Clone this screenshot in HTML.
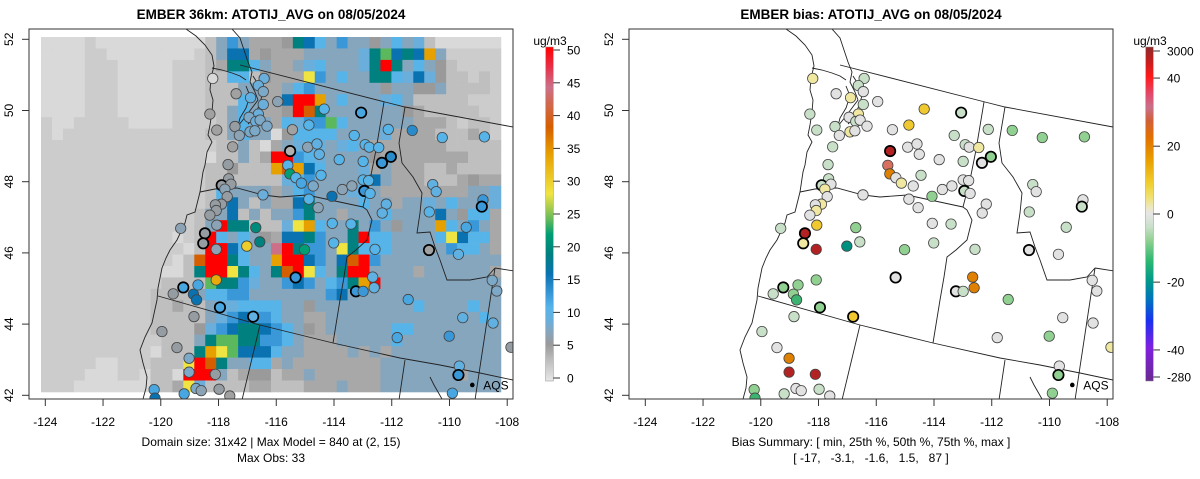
<!DOCTYPE html>
<html><head><meta charset="utf-8">
<style>
html,body{margin:0;padding:0;background:#fff;}
svg{display:block;font-family:"Liberation Sans",Arial,sans-serif;}
</style></head>
<body>
<svg id="chart" width="1200" height="479" viewBox="0 0 1200 479" xmlns="http://www.w3.org/2000/svg">
<defs>
<clipPath id="clipL"><rect x="29" y="29" width="484" height="370"/></clipPath>
<clipPath id="clipR"><rect x="629" y="29" width="484" height="370"/></clipPath>
<linearGradient id="gradObs" x1="0" y1="1" x2="0" y2="0"></linearGradient>
<linearGradient id="gradBias" x1="0" y1="0" x2="0" y2="1">
<stop offset="0" stop-color="#8e2a2a"/><stop offset="0.04" stop-color="#c21e1e"/><stop offset="0.09" stop-color="#ff1a1a"/>
<stop offset="0.14" stop-color="#e4486a"/><stop offset="0.18" stop-color="#c8708a"/><stop offset="0.22" stop-color="#d0603a"/>
<stop offset="0.27" stop-color="#e07000"/><stop offset="0.34" stop-color="#e8a000"/><stop offset="0.41" stop-color="#f0d030"/>
<stop offset="0.45" stop-color="#f0e070"/><stop offset="0.48" stop-color="#ece8c0"/><stop offset="0.5" stop-color="#e6e6e6"/>
<stop offset="0.54" stop-color="#c8e0c8"/><stop offset="0.58" stop-color="#90d090"/><stop offset="0.64" stop-color="#2db870"/>
<stop offset="0.70" stop-color="#00998a"/><stop offset="0.76" stop-color="#0070c0"/><stop offset="0.82" stop-color="#1a30f0"/>
<stop offset="0.9" stop-color="#8020e0"/><stop offset="1" stop-color="#6a2a90"/>
</linearGradient>
</defs>
<g id="left"></g>
<g id="right"></g>
</svg>
<script>
const gridRows = [
"LLLLlLLLLLLLLLLmscsgggktdbscssksbsBmLLLLLL",
"LLLLllLLLLLLLLlmsddgkgggsssssBtndtdoslllll",
"LLLLlllLLLLLlllmgttbsggsBbsssBtrtsbskmllll",
"LLLLlllLLLLLlllmmbbmkgggycsbssttbBdBkmmlml",
"LLLLlllLLLLLlllmmmssggsbcssssssksskksmmmml",
"LLLLlllLLLLLlllmmmbsggdrrosbsssBbsmmmmmlll",
"LLLLlllLLLLLlllmmsbsggkrOtssssssskgmmmmmll",
"lLLlllllLLLLllllmsbssgbBccnbssssssgggmlmml",
"lLlllllllllllllmmsbssLkbbbbssssBggggmmmgml",
"llllllllllllllllmmsmLgsBbBsBbsgggggggmmmmm",
"lllllllllllllllLmmsmgrrcbBsssskggggggggmmm",
"lllllllllllllllmmkmmmoOodbsssBgsgggmmgmmmm",
"lllllllllllllllmmmmmmmBbcssssBdsgggmmmgkgg",
"lllllllllllllllmbssssgsbcsssBbsggggggggssB",
"lllllllllllllllmbdsmsggdtssssbssgssBsbsssB",
"llllllllllllllmssdmsmssctssgsssbssssdskbbg",
"llllllllllllllmsrttmmmByobsstscsksssobscsg",
"llllllllllllLlmrbsbskgddtcsstrbbssssbydbbg",
"lllllllllllllLmrrdbssprtccsytbbbssssscbbsg",
"llllllllllllLmOrrtbssorrdcsdOrcsssssssssss",
"lllllllllllLLmtrrytbstOrybstrrssssgssssssg",
"lllllllllllmmmmnttcBsscdcsbctorsssssssssss",
"llllllllllmmmmsbbccssssssscdssssssssssssss",
"llllllllllmmgmmsBBbbbbssksssssssssbssssbss",
"llllllllllmmmmmsBcdccbssggssssssssssssssbs",
"llllllllllmmmmkBcdttdcbskgssssssbbssssssss",
"lllllllllllmmmstnnttccbsgggsssssbsssssssss",
"llllllllllLmmmtoyndddbssggggsgsgssssssssss",
"lllllLLlllmmmyrOtssbbgsggggggggsssssssssss",
"llllLLLllLmmLrrrsmgkkmggsggggggsssssssgsss",
"lllLLLLLLLmmgyBmmmmggmmmgggsgggsssssssssss"
];
const letterValue = {L:1,l:2,m:3,g:4.5,k:5.5,s:7.5,B:9,b:11,c:13,d:16,t:19,n:24,y:28,o:34,O:38,p:44,r:50};
const stationLon = [-118.20,-116.42,-116.62,-116.45,-117.39,-116.89,-116.45,-115.95,-118.30,-116.62,-114.34,-113.06,-116.94,-116.71,-116.56,-116.32,-117.43,-118.06,-117.28,-116.91,-116.74,-115.44,-114.87,-112.12,-113.30,-117.51,-115.52,-114.91,-114.59,-114.51,-112.92,-112.78,-112.45,-112.03,-112.34,-113.82,-112.99,-117.67,-115.60,-115.53,-114.45,-115.32,-115.13,-114.72,-117.65,-117.89,-117.57,-117.78,-117.70,-113.71,-113.38,-112.99,-112.80,-112.95,-112.75,-116.46,-114.87,-114.07,-114.55,-112.19,-112.33,-117.90,-118.11,-118.08,-118.30,-119.31,-118.06,-116.71,-114.06,-113.41,-118.47,-118.53,-118.08,-117.02,-116.57,-115.02,-114.01,-112.58,-115.33,-112.66,-112.61,-113.24,-112.99,-119.22,-118.71,-118.08,-119.57,-118.87,-118.76,-117.95,-116.80,-118.85,-119.96,-119.44,-119.02,-119.02,-118.11,-120.23,-120.20,-119.19,-118.78,-118.60,-117.98,-117.61,-111.81,-111.29,-110.25,-108.79,-110.58,-110.46,-108.84,-108.88,-110.70,-109.42,-110.71,-109.69,-108.52,-108.36,-111.43,-109.54,-108.49,-110.01,-107.87,-109.66,-109.69,-109.90];
const stationLat = [50.90,50.90,50.70,50.53,50.47,50.36,50.17,50.25,49.90,49.90,50.04,49.94,49.81,49.69,49.73,49.56,49.55,49.45,49.30,49.40,49.43,49.46,49.59,49.47,49.30,48.98,48.86,48.97,49.06,48.77,49.04,48.97,48.96,48.70,48.53,48.62,48.57,48.48,48.46,48.22,48.18,48.11,47.96,47.88,48.08,47.90,47.93,47.79,47.58,47.78,47.88,48.05,48.03,47.74,47.67,47.63,47.51,47.59,47.27,47.37,47.12,47.37,47.35,47.19,47.06,46.69,46.78,46.71,46.83,46.81,46.55,46.27,46.10,46.19,46.31,46.09,46.28,46.10,45.31,45.32,45.02,44.92,44.92,45.03,45.10,45.24,44.85,44.84,44.68,44.47,44.21,44.21,43.79,43.34,43.04,42.65,42.59,42.16,41.92,42.04,42.19,42.13,42.17,41.98,43.62,49.44,49.24,49.26,47.92,47.72,47.49,47.30,47.15,46.72,46.08,45.96,45.23,44.93,44.69,44.18,44.03,43.66,43.35,42.82,42.57,42.06];
const stationObs = [1,9,9,8,5,10,9,7,5,9,11,12,8,9,8,8,6,5,7,8,8,5,11,11,11,5,4,7,10,10,11,11,11,14,13,11,11,6,11,22,11,11,12,8,6,6,6,7,6,7,7,11,11,13,11,9,11,16,7,10,10,6,6,6,6,7,7,20,11,11,6,6,7,30,19,22,11,11,13,10,10,13,13,12,12,33,6,16,16,12,10,6,6,6,8,8,6,12,16,12,8,7,6,5,12,14,11,11,10,10,13,13,11,12,5,10,8,8,12,10,10,13,6,10,13,12];
const stationBias = [5,-3,-3,0,0,5,-3,0,-3,5,12,-3,0,-3,0,0,-3,-3,0,5,0,0,12,-3,-3,-3,45,0,0,0,-3,0,5,-5,0,0,-3,-3,33,25,-3,0,5,0,-3,-3,0,5,0,0,0,0,0,-3,0,0,0,-6,0,0,0,5,0,5,0,-3,12,-8,0,-3,45,5,45,-18,-3,-6,-3,-3,0,25,25,0,-3,-8,-8,-8,-3,-8,-12,-5,12,-3,-3,0,25,45,45,-8,-12,-3,0,0,-3,0,0,-6,-6,-6,-3,0,0,-3,-3,-3,0,0,0,0,-6,0,0,-6,5,0,-6,-6];
const boldStations = [11,26,33,34,45,53,70,71,78,81,83,89,90,111,114,124];
const xTickLabels = [-124,-122,-120,-118,-116,-114,-112,-110,-108];
const yTickLabels = [42,44,46,48,50,52];
const obsBarTicks = [0,5,10,15,20,25,30,35,40,45,50];
const biasBarTicks = ["3000","40","20","0","-20","-40","-280"];
const biasBarTickPos = [0.012,0.093,0.297,0.5,0.704,0.907,0.988];
const aqsLon = -109.21, aqsLat = 42.29;

const NS = "http://www.w3.org/2000/svg";
function xOf(lon){ return 45.3 + (lon + 124) * 28.87; }
function yOf(lat){ return 395.3 - (lat - 42) * 35.6; }
function cellX(i){ return 41 + 10.95 * i; }
function cellY(j){ return 37 + 11.45 * j; }
function cbY(v){ return 378 - v * 6.56; }

const obsStops = [[0,"#e8e8e8"],[1,"#d9d9d9"],[2,"#cccccc"],[3,"#bfbfbf"],[4.5,"#a8a8a8"],[5.5,"#9a9a9a"],[7.5,"#86a6be"],[9,"#6aaedb"],[11,"#56b4e9"],[13,"#3a98d8"],[16,"#0a72b0"],[19,"#00807f"],[22,"#009e73"],[24,"#5cb85c"],[26,"#a8cc50"],[28,"#f0e442"],[34,"#e6a000"],[38,"#d55e00"],[44,"#cc7088"],[47,"#e8304a"],[50,"#ff0000"]];
function hx(c){ return [parseInt(c.substr(1,2),16),parseInt(c.substr(3,2),16),parseInt(c.substr(5,2),16)]; }
function obsColor(v){
  if (v <= obsStops[0][0]) return obsStops[0][1];
  for (let k=1;k<obsStops.length;k++){
    if (v <= obsStops[k][0]){
      const a=obsStops[k-1], b=obsStops[k], t=(v-a[0])/(b[0]-a[0]);
      const ca=hx(a[1]), cb=hx(b[1]);
      return "rgb("+ca.map((x,i)=>Math.round(x+(cb[i]-x)*t)).join(",")+")";
    }
  }
  return "#ff0000";
}
function biasColor(v){
  if (v>=40) return "#b22222";
  if (v>=30) return "#d87060";
  if (v>=20) return "#e08000";
  if (v>=10) return "#f0c830";
  if (v>=3) return "#f0e8a0";
  if (v>-2) return "#e2e2e2";
  if (v>-5) return "#c8e0c8";
  if (v>-10) return "#90d090";
  if (v>-15) return "#3cb371";
  return "#009080";
}
const gObs = document.getElementById("gradObs");
for (const s of obsStops){
  const st = document.createElementNS(NS,"stop");
  st.setAttribute("offset", s[0]/50);
  st.setAttribute("stop-color", s[1]);
  gObs.appendChild(st);
}
function el(tag, attrs, parent){
  const e = document.createElementNS(NS, tag);
  for (const k in attrs) e.setAttribute(k, attrs[k]);
  parent.appendChild(e);
  return e;
}
function txt(parent, x, y, s, extra){
  const t = el("text", Object.assign({x:x, y:y, "font-size":12, fill:"#000"}, extra||{}), parent);
  t.textContent = s;
  return t;
}

const coast = [[186,29],[196,36],[205,45],[212,55],[214,66],[211,78],[210,90],[213,100],[212,112],[210,125],[208,135],[212,142],[207,152],[205,165],[203,172],[200,192],[195,212],[187,215],[185,223],[177,240],[170,250],[166,258],[162,268],[158,288],[157,300],[152,323],[145,337],[140,350],[143,363],[147,377],[146,388],[143,399]];
const strait = [[212,68],[222,70],[232,73],[240,76],[246,80]];
const puget = [[232,29],[240,38],[244,50],[248,62],[252,72],[250,82],[255,92],[258,100],[252,108],[246,116],[238,126],[240,118],[246,108],[250,96],[246,86]];
const puget2 = [[253,76],[258,84],[262,96],[258,108],[254,118],[248,124]];
const canada = [[240,65],[385,102],[405,107],[513,127]];
const waOr = [[200,192],[215,189],[237,188],[263,195],[280,197],[307,195],[335,201],[363,207]];
const waId = [[384,102],[376,150],[370,180],[363,207]];
const orId = [[363,207],[367,210],[372,220],[367,240],[356,250],[347,257],[344,277],[340,300],[333,343]];
const south = [[158,296],[260,325],[333,343],[400,358],[440,365],[480,373],[513,380]];
const caNv = [[260,325],[242,400]];
const nvUt = [[405,360],[399,400]];
const wyId = [[495,268],[475,400]];
const idMt = [[405,107],[399,143],[402,163],[413,177],[422,193],[420,213],[417,233],[430,232],[435,247],[440,260],[447,280],[470,280],[487,277],[495,268]];
const mtWy = [[495,268],[514,271]];
const saltLake = [[430,377],[434,385],[438,392],[442,399]];
const allLines = [coast,strait,puget,puget2,canada,waOr,waId,orId,south,caNv,nvUt,wyId,idMt,mtWy,saltLake];
const lineNames = ["coastline","juan-de-fuca-strait","puget-sound","puget-sound-east","canada-border","wa-or-border","wa-id-border","or-id-border","southern-border","ca-nv-border","nv-ut-border","wy-id-border","id-mt-border","mt-wy-border","great-salt-lake"];

function drawPanel(g, dx, clipId, mode){
  const bodyG = el("g", {"clip-path":"url(#"+clipId+")"}, g);
  
  
  if (mode === "obs"){
    for (let j=0;j<gridRows.length;j++){
      const row = gridRows[j];
      for (let i=0;i<row.length && i<42;i++){
        const v = letterValue[row[i]];
        const r = el("rect", {x:cellX(i)+dx, y:cellY(j), width:11.3, height:11.8, fill:obsColor(v)}, bodyG);
        
        
      }
    }
  }
  const linesG = el("g", {fill:"none", stroke:"#222", "stroke-width":0.9}, bodyG);
  allLines.forEach((ln, k) => {
    const p = el("polyline", {points: ln.map(q => (q[0]+dx)+","+q[1]).join(" ")}, linesG);
    
    
  });
  const n = Math.min(stationLon.length, stationLat.length, stationObs.length, stationBias.length);
  for (let k=0;k<n;k++){
    const bold = boldStations.indexOf(k) >= 0;
    const fill = mode==="obs" ? obsColor(stationObs[k]) : biasColor(stationBias[k]);
    const c = el("circle", {cx:xOf(stationLon[k])+dx, cy:yOf(stationLat[k]), r:5.2, fill:fill, stroke: bold ? "#000" : "#444", "stroke-width": bold ? 1.7 : 0.8}, bodyG);
    
    
  }
  const aq = el("circle", {cx:xOf(aqsLon)+dx, cy:yOf(aqsLat), r:2.3, fill:"#000"}, bodyG);
  
  
  const aqt = txt(bodyG, xOf(aqsLon)+dx+11, yOf(aqsLat)+4.5, "AQS");
  
  

  const fr = el("rect", {x:29+dx, y:29, width:484, height:370, fill:"none", stroke:"#333", "stroke-width":1}, g);
  
  
  const xa = el("g", {}, g);
  
  
  for (const v of xTickLabels){
    const x = xOf(v)+dx;
    el("line", {x1:x, y1:399, x2:x, y2:406, stroke:"#333"}, xa);
    const t = txt(xa, x, 426, String(v), {"text-anchor":"middle"});
    
    
  }
  const ya = el("g", {}, g);
  
  
  for (const v of yTickLabels){
    const y = yOf(v);
    el("line", {x1:22+dx, y1:y, x2:29+dx, y2:y, stroke:"#333"}, ya);
    const t = txt(ya, 0, 0, String(v), {"text-anchor":"middle", transform:"translate("+(13+dx)+","+y+") rotate(-90)"});
    
    
  }
}

const L = document.getElementById("left");
const R = document.getElementById("right");
drawPanel(L, 0, "clipL", "obs");
drawPanel(R, 600, "clipR", "bias");

let t = txt(L, 271, 19, "EMBER 36km: ATOTIJ_AVG on 08/05/2024", {"text-anchor":"middle","font-weight":"bold","font-size":13.5});


t = txt(R, 871, 19, "EMBER bias: ATOTIJ_AVG on 08/05/2024", {"text-anchor":"middle","font-weight":"bold","font-size":13.5});


t = txt(L, 271, 446, "Domain size: 31x42 | Max Model = 840 at (2, 15)", {"text-anchor":"middle"});


t = txt(L, 271, 462, "Max Obs: 33", {"text-anchor":"middle"});


t = txt(R, 871, 446, "Bias Summary: [ min, 25th %, 50th %, 75th %, max ]", {"text-anchor":"middle"});


t = txt(R, 871, 462, "[ -17,   -3.1,   -1.6,   1.5,   87 ]", {"text-anchor":"middle"});
t.style.whiteSpace = "pre";



const cb = el("g", {}, L);


el("rect", {x:545.7, y:47, width:7.6, height:334, fill:"url(#gradObs)", stroke:"#888", "stroke-width":0.5}, cb);
t = txt(cb, 550, 45, "ug/m3", {"text-anchor":"middle"});


for (const v of obsBarTicks){
  const y = cbY(v);
  el("line", {x1:553.3, y1:y, x2:560, y2:y, stroke:"#333"}, cb);
  const tt = txt(cb, 567, y+4.5, String(v));
  
  
}
const cb2 = el("g", {}, R);


el("rect", {x:1145.7, y:47, width:7.6, height:334, fill:"url(#gradBias)", stroke:"#888", "stroke-width":0.5}, cb2);
t = txt(cb2, 1150, 45, "ug/m3", {"text-anchor":"middle"});


biasBarTicks.forEach((s, k) => {
  const y = 47 + biasBarTickPos[k]*334;
  el("line", {x1:1153.3, y1:y, x2:1160, y2:y, stroke:"#333"}, cb2);
  const tt = txt(cb2, 1167, y+4.5, s);
  
  
});
</script>
</body></html>
